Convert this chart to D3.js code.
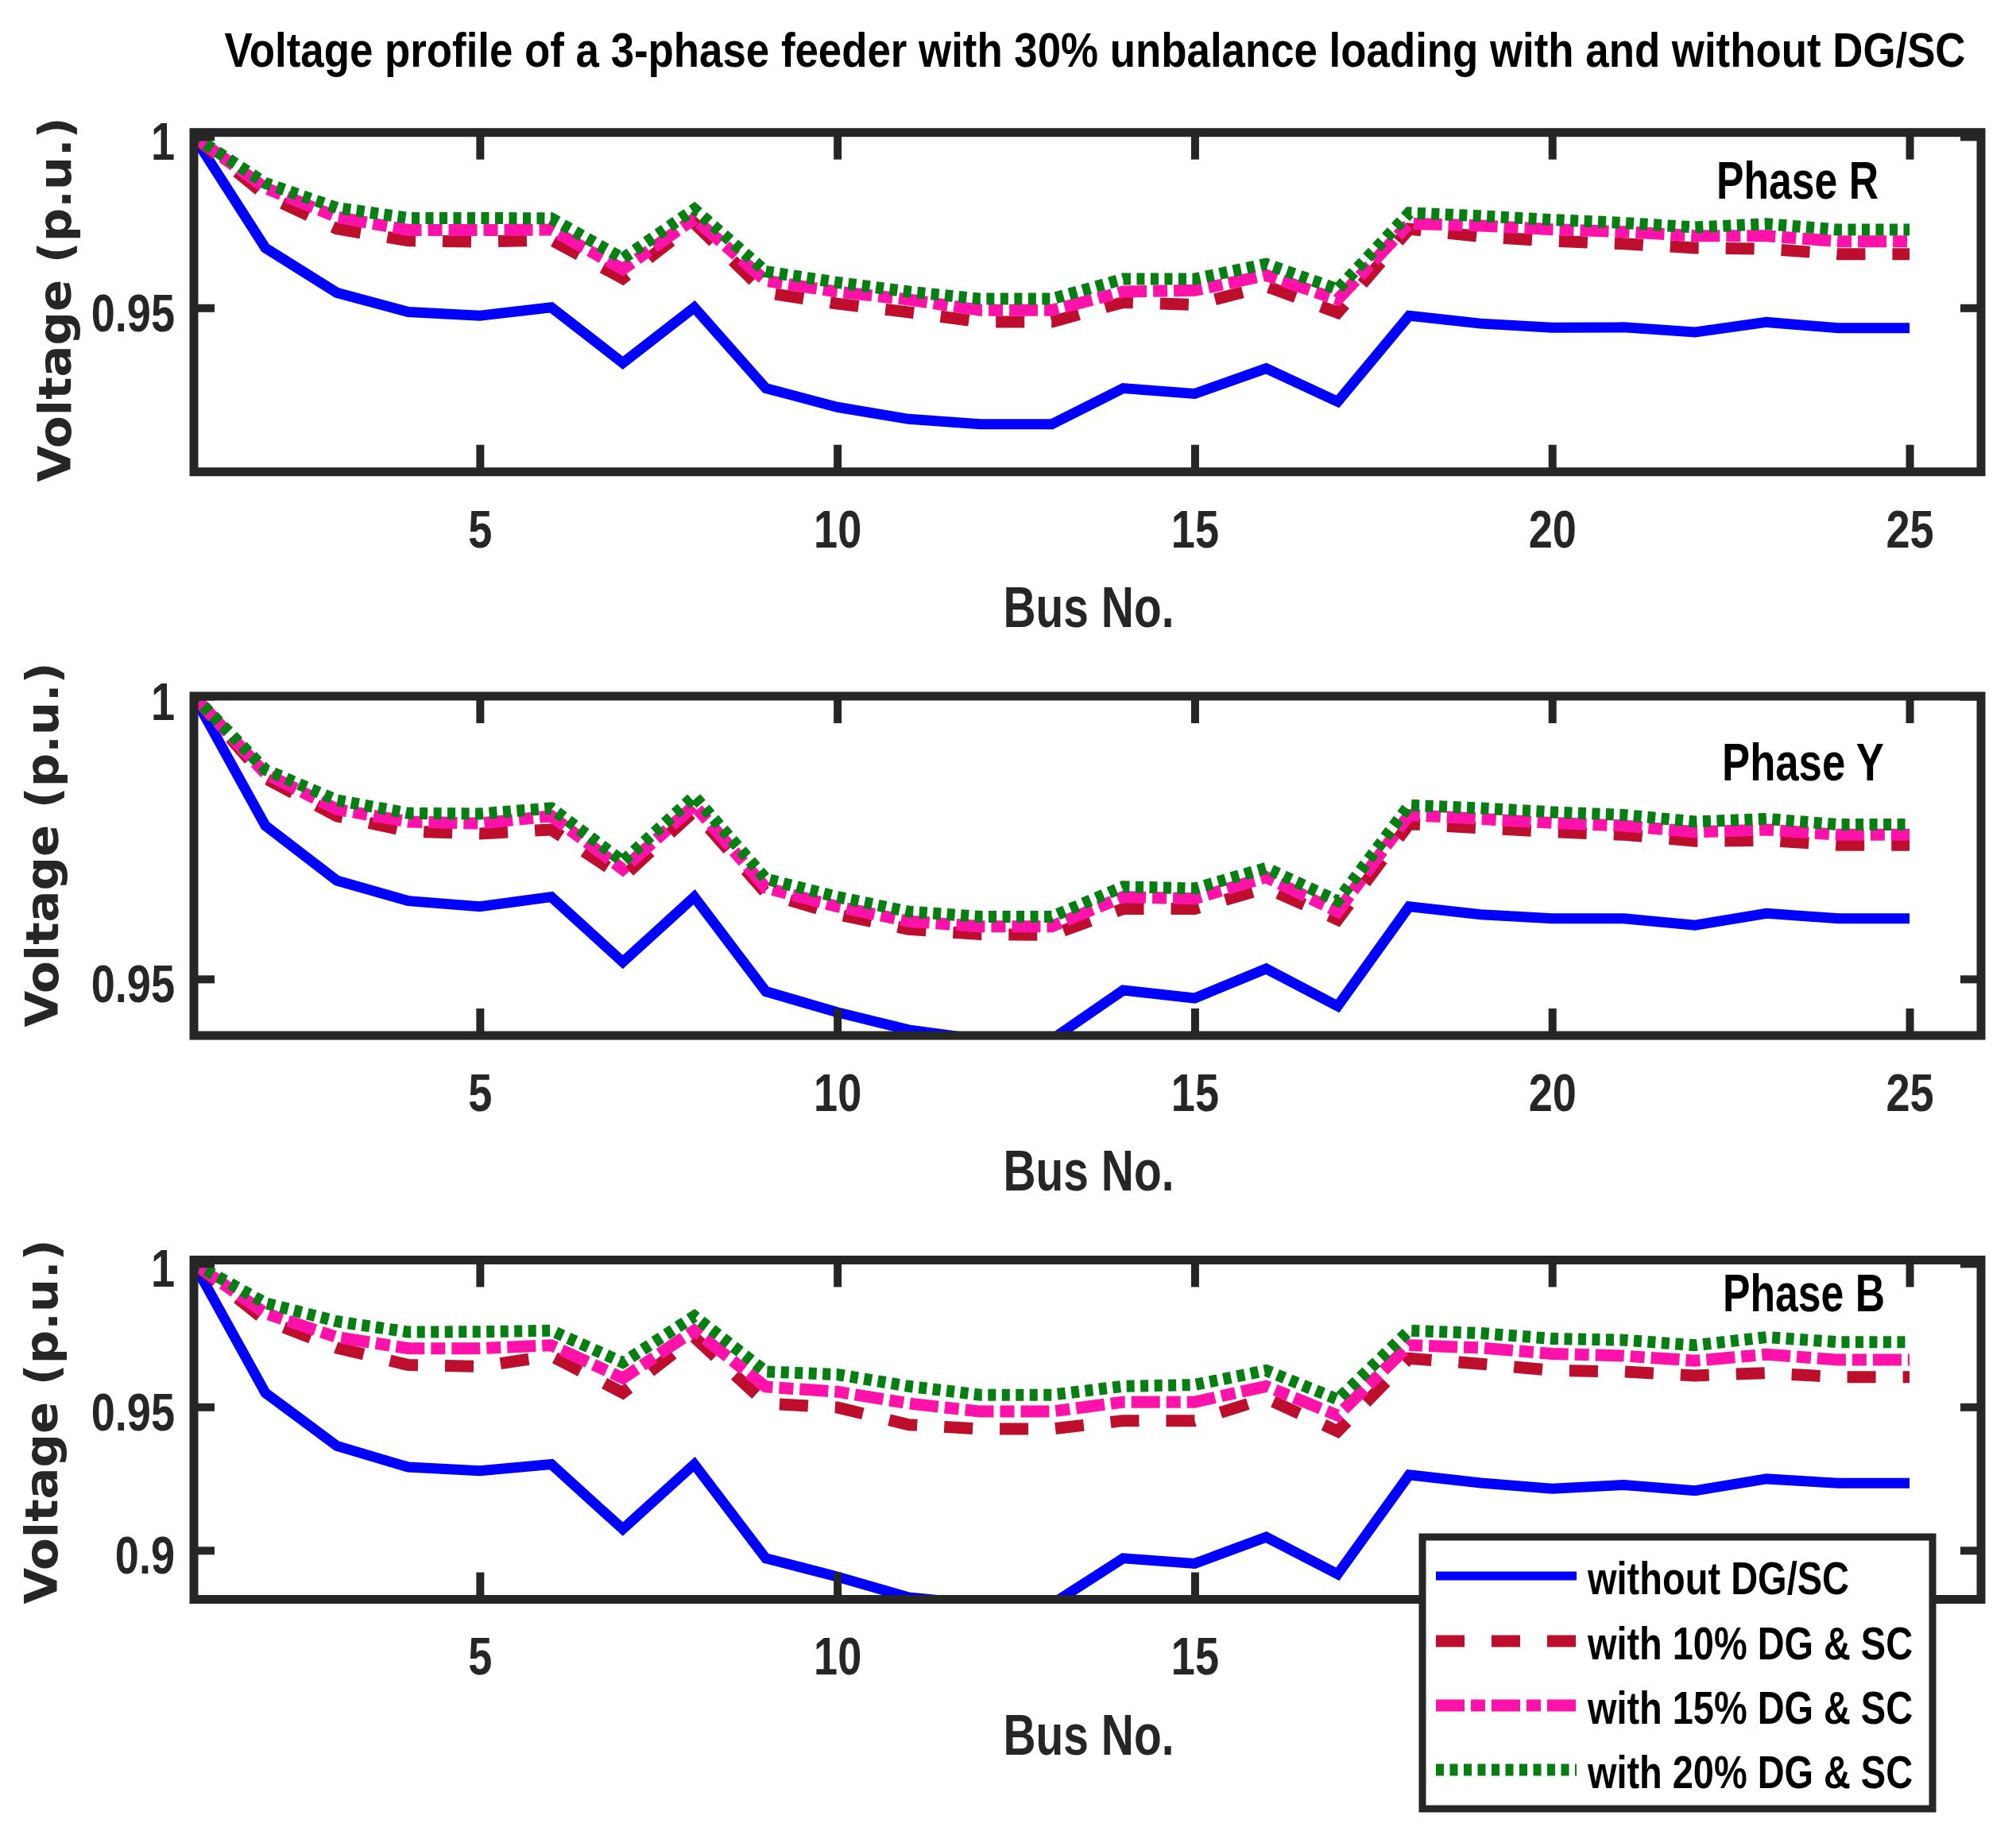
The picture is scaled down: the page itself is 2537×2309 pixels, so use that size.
<!DOCTYPE html>
<html>
<head>
<meta charset="utf-8">
<style>
  body { margin: 0; background: #fff; }
  svg { display: block; }
</style>
</head>
<body>
<div id="chart"></div>
<script src="https://cdn.jsdelivr.net/npm/d3@7/dist/d3.min.js"></script>
<script>
// bus numbers (x values)
var busNo = [1,2,3,4,5,6,7,8,9,10,11,12,13,14,15,16,17,18,19,20,21,22,23,24,25];

// Phase R
var rWithout = [1.0,0.9675,0.9544,0.9488,0.9477,0.9501,0.9339,0.9501,0.9265,0.9210,0.9175,0.9160,0.9160,0.9265,0.9249,0.9323,0.9226,0.9477,0.9454,0.9442,0.9443,0.9429,0.9458,0.9441,0.9441];
var rDG10 = [1.0,0.9829,0.9731,0.9696,0.9693,0.9698,0.9586,0.9747,0.9544,0.9512,0.9487,0.9459,0.9459,0.9516,0.9509,0.9563,0.9486,0.9730,0.9708,0.9695,0.9687,0.9675,0.9672,0.9657,0.9657];
var rDG15 = [1.0,0.9850,0.9765,0.9727,0.9727,0.9728,0.9613,0.9760,0.9579,0.9547,0.9524,0.9493,0.9493,0.9547,0.9551,0.9595,0.9524,0.9746,0.9740,0.9729,0.9722,0.9710,0.9710,0.9694,0.9694];
var rDG20 = [1.0,0.9864,0.9792,0.9762,0.9762,0.9761,0.9644,0.9788,0.9606,0.9574,0.9547,0.9526,0.9526,0.9584,0.9584,0.9628,0.9554,0.9777,0.9768,0.9757,0.9748,0.9735,0.9745,0.9728,0.9728];

// Phase Y
var yWithout = [1.0,0.9771,0.9674,0.9638,0.9628,0.9645,0.9530,0.9645,0.9478,0.9441,0.9410,0.9393,0.9393,0.9480,0.9466,0.9518,0.9452,0.9628,0.9614,0.9607,0.9607,0.9595,0.9616,0.9607,0.9607];
var yDG10 = [1.0,0.9855,0.9788,0.9761,0.9757,0.9764,0.9680,0.9797,0.9652,0.9614,0.9588,0.9579,0.9578,0.9624,0.9624,0.9661,0.9605,0.9774,0.9767,0.9760,0.9755,0.9744,0.9745,0.9737,0.9737];
var yDG15 = [1.0,0.9863,0.9800,0.9778,0.9775,0.9788,0.9694,0.9807,0.9661,0.9628,0.9602,0.9593,0.9593,0.9645,0.9642,0.9680,0.9619,0.9790,0.9783,0.9776,0.9771,0.9760,0.9764,0.9755,0.9755];
var yDG20 = [1.0,0.9870,0.9816,0.9793,0.9792,0.9802,0.9708,0.9823,0.9677,0.9645,0.9619,0.9610,0.9610,0.9663,0.9660,0.9696,0.9638,0.9807,0.9802,0.9795,0.9790,0.9778,0.9783,0.9773,0.9773];

// Phase B
var bWithout = [1.0,0.9549,0.9364,0.9290,0.9277,0.9300,0.9074,0.9300,0.8972,0.8908,0.8836,0.8812,0.8812,0.8972,0.8954,0.9046,0.8917,0.9263,0.9235,0.9215,0.9228,0.9208,0.9249,0.9234,0.9234];
var bDG10 = [1.0,0.9802,0.9706,0.9646,0.9641,0.9678,0.9549,0.9743,0.9512,0.9498,0.9438,0.9423,0.9423,0.9452,0.9452,0.9530,0.9415,0.9669,0.9650,0.9627,0.9623,0.9609,0.9618,0.9604,0.9604];
var bDG15 = [1.0,0.9826,0.9743,0.9704,0.9704,0.9715,0.9600,0.9766,0.9570,0.9553,0.9512,0.9484,0.9484,0.9517,0.9517,0.9572,0.9470,0.9715,0.9706,0.9685,0.9678,0.9661,0.9683,0.9664,0.9664];
var bDG20 = [1.0,0.9862,0.9798,0.9761,0.9762,0.9766,0.9655,0.9816,0.9623,0.9613,0.9572,0.9542,0.9542,0.9572,0.9577,0.9627,0.9526,0.9766,0.9757,0.9738,0.9733,0.9715,0.9743,0.9726,0.9726];

var seriesNames = ["without DG/SC", "with 10% DG & SC", "with 15% DG & SC", "with 20% DG & SC"];
var phaseNames = ["Phase R", "Phase Y", "Phase B"];
var xLim = [1, 26];
var xTicks = [5, 10, 15, 20, 25];
var yLimR = [0.9021, 1.0012], yLimY = [0.94, 1.0], yLimB = [0.8829, 1.0012];
var yTicksR = [0.95, 1], yTicksY = [0.95, 1], yTicksB = [0.9, 0.95, 1];

var titleText = "Voltage profile of a 3-phase feeder with 30% unbalance loading with and without DG/SC";
var xLabel = "Bus No.";
var yLabel = "Voltage (p.u.)";

// styles
var styles = [
  { color: "#0000ff", width: 13, dash: null },
  { color: "#be0e2e", width: 15, dash: "36,34" },
  { color: "#ff12aa", width: 15, dash: "36,8,18,8" },
  { color: "#067f12", width: 15, dash: "10,7.5" }
];
var axisColor = "#262626";
var narrow = "'Liberation Sans Narrow','Arial Narrow','Liberation Sans',Arial,sans-serif";
var wide = "'DejaVu Sans',Verdana,sans-serif";
var squeeze = 0.82;

var W = 2537, H = 2309;
var left = 244, right = 2493, ph = 427;
var legendBox = { x: 1790, y: 1934, w: 642, h: 342 };

var panels = [
  { name: phaseNames[0], data: [rWithout, rDG10, rDG15, rDG20], yLim: yLimR, yTicks: yTicksR,
    top: 166.7, ylabX: 89, ylabY: 377, phX: 2160, phY: 250 },
  { name: phaseNames[1], data: [yWithout, yDG10, yDG15, yDG20], yLim: yLimY, yTicks: yTicksY,
    top: 876, ylabX: 73, ylabY: 1063, phX: 2167, phY: 982 },
  { name: phaseNames[2], data: [bWithout, bDG10, bDG15, bDG20], yLim: yLimB, yTicks: yTicksB,
    top: 1585.5, ylabX: 72, ylabY: 1789, phX: 2168, phY: 1650 }
];

var svg = d3.select("#chart").append("svg")
  .attr("width", W).attr("height", H)
  .attr("viewBox", "0 0 " + W + " " + H);

svg.append("rect").attr("width", W).attr("height", H).attr("fill", "#fff");

// narrow bold text: squeezed horizontally, then fitted to a width
function narrowText(parent, tx, ty, str, size, width, anchor) {
  return parent.append("text")
    .attr("transform", "translate(" + tx + "," + ty + ") scale(" + squeeze + ",1)")
    .attr("text-anchor", anchor || "start")
    .attr("font-family", narrow).attr("font-weight", "bold").attr("font-size", size)
    .attr("textLength", width / squeeze).attr("lengthAdjust", "spacingAndGlyphs")
    .text(str);
}

// title
narrowText(svg, 1378, 84, titleText, 62, 2191, "middle");

var x = d3.scaleLinear().domain(xLim).range([left, right]);

panels.forEach(function(p, pi) {
  var bottom = p.top + ph;
  var y = d3.scaleLinear().domain(p.yLim).range([bottom, p.top]);
  var g = svg.append("g");

  var clipId = "clip" + pi;
  svg.append("clipPath").attr("id", clipId)
    .append("rect").attr("x", left).attr("y", p.top)
    .attr("width", right - left).attr("height", ph);

  var line = d3.line()
    .x(function(d, i) { return x(busNo[i]); })
    .y(function(d) { return y(d); });

  var lines = g.append("g").attr("clip-path", "url(#" + clipId + ")");
  p.data.forEach(function(series, si) {
    var s = styles[si];
    lines.append("path")
      .datum(series)
      .attr("d", line)
      .attr("fill", "none")
      .attr("stroke", s.color)
      .attr("stroke-width", s.width)
      .attr("stroke-dasharray", s.dash)
      .attr("stroke-linejoin", "miter")
      .attr("stroke-linecap", "butt");
  });

  // tick labels that sit under the legend are hidden, as in the original
  var underLegend = function(v) {
    var px = x(v), py = bottom + 70;
    return px > legendBox.x - 30 && px < legendBox.x + legendBox.w && py > legendBox.y && py < legendBox.y + legendBox.h;
  };

  // ticks (inward, mirrored on all sides)
  var axB = g.append("g").attr("transform", "translate(0," + bottom + ")")
    .call(d3.axisBottom(x).tickValues(xTicks).tickSize(-34).tickPadding(0)
      .tickFormat(function(v) { return underLegend(v) ? "" : String(v); }));
  var axT = g.append("g").attr("transform", "translate(0," + p.top + ")")
    .call(d3.axisTop(x).tickValues(xTicks).tickSize(-34).tickFormat(""));
  var axL = g.append("g").attr("transform", "translate(" + left + ",0)")
    .call(d3.axisLeft(y).tickValues(p.yTicks).tickSize(-26).tickFormat(d3.format("")));
  var axR = g.append("g").attr("transform", "translate(" + right + ",0)")
    .call(d3.axisRight(y).tickValues(p.yTicks).tickSize(-26).tickFormat(""));

  [axB, axT, axL, axR].forEach(function(a) {
    a.attr("color", axisColor).attr("font-family", null).attr("font-size", null);
    a.select(".domain").remove();
    a.selectAll(".tick line").attr("stroke-width", 10);
  });
  [axT, axR].forEach(function(a) { a.selectAll(".tick text").remove(); });
  axB.selectAll(".tick text").filter(function() { return this.textContent === ""; }).remove();

  axB.selectAll(".tick text")
    .attr("y", 95).attr("dy", null)
    .attr("transform", "scale(" + squeeze + ",1)")
    .attr("fill", axisColor)
    .attr("font-family", narrow).attr("font-weight", "bold").attr("font-size", 66);

  axL.selectAll(".tick text")
    .attr("x", -24 / squeeze).attr("y", 29).attr("dy", null)
    .attr("transform", "scale(" + squeeze + ",1)")
    .attr("fill", axisColor)
    .attr("font-family", narrow).attr("font-weight", "bold").attr("font-size", 66);

  // box
  g.append("rect")
    .attr("x", left).attr("y", p.top)
    .attr("width", right - left).attr("height", ph)
    .attr("fill", "none").attr("stroke", axisColor).attr("stroke-width", 11);

  // phase label
  narrowText(g, p.phX, p.phY, p.name, 66, 204);

  // x label
  narrowText(g, 1370, bottom + 195, xLabel, 72, 215, "middle").attr("fill", axisColor);

  // y label
  g.append("text")
    .attr("transform", "translate(" + p.ylabX + "," + p.ylabY + ") rotate(-90)")
    .attr("text-anchor", "middle")
    .attr("fill", axisColor)
    .attr("font-family", wide).attr("font-weight", "bold").attr("font-size", 57)
    .attr("textLength", 459).attr("lengthAdjust", "spacingAndGlyphs")
    .text(yLabel);
});

// legend
var lg = svg.append("g");
lg.append("rect")
  .attr("x", legendBox.x).attr("y", legendBox.y).attr("width", legendBox.w).attr("height", legendBox.h)
  .attr("fill", "#fff").attr("stroke", axisColor).attr("stroke-width", 9);

var legendRows = [1983, 2065, 2146, 2227];
var legendTextW = [329, 409, 409, 409];
seriesNames.forEach(function(name, i) {
  var s = styles[i];
  lg.append("line")
    .attr("x1", 1807).attr("x2", 1984)
    .attr("y1", legendRows[i]).attr("y2", legendRows[i])
    .attr("stroke", s.color).attr("stroke-width", i === 0 ? 11 : s.width)
    .attr("stroke-dasharray", s.dash);
  narrowText(lg, 1998, legendRows[i] + 23, name, 58, legendTextW[i]);
});
</script>
</body>
</html>
